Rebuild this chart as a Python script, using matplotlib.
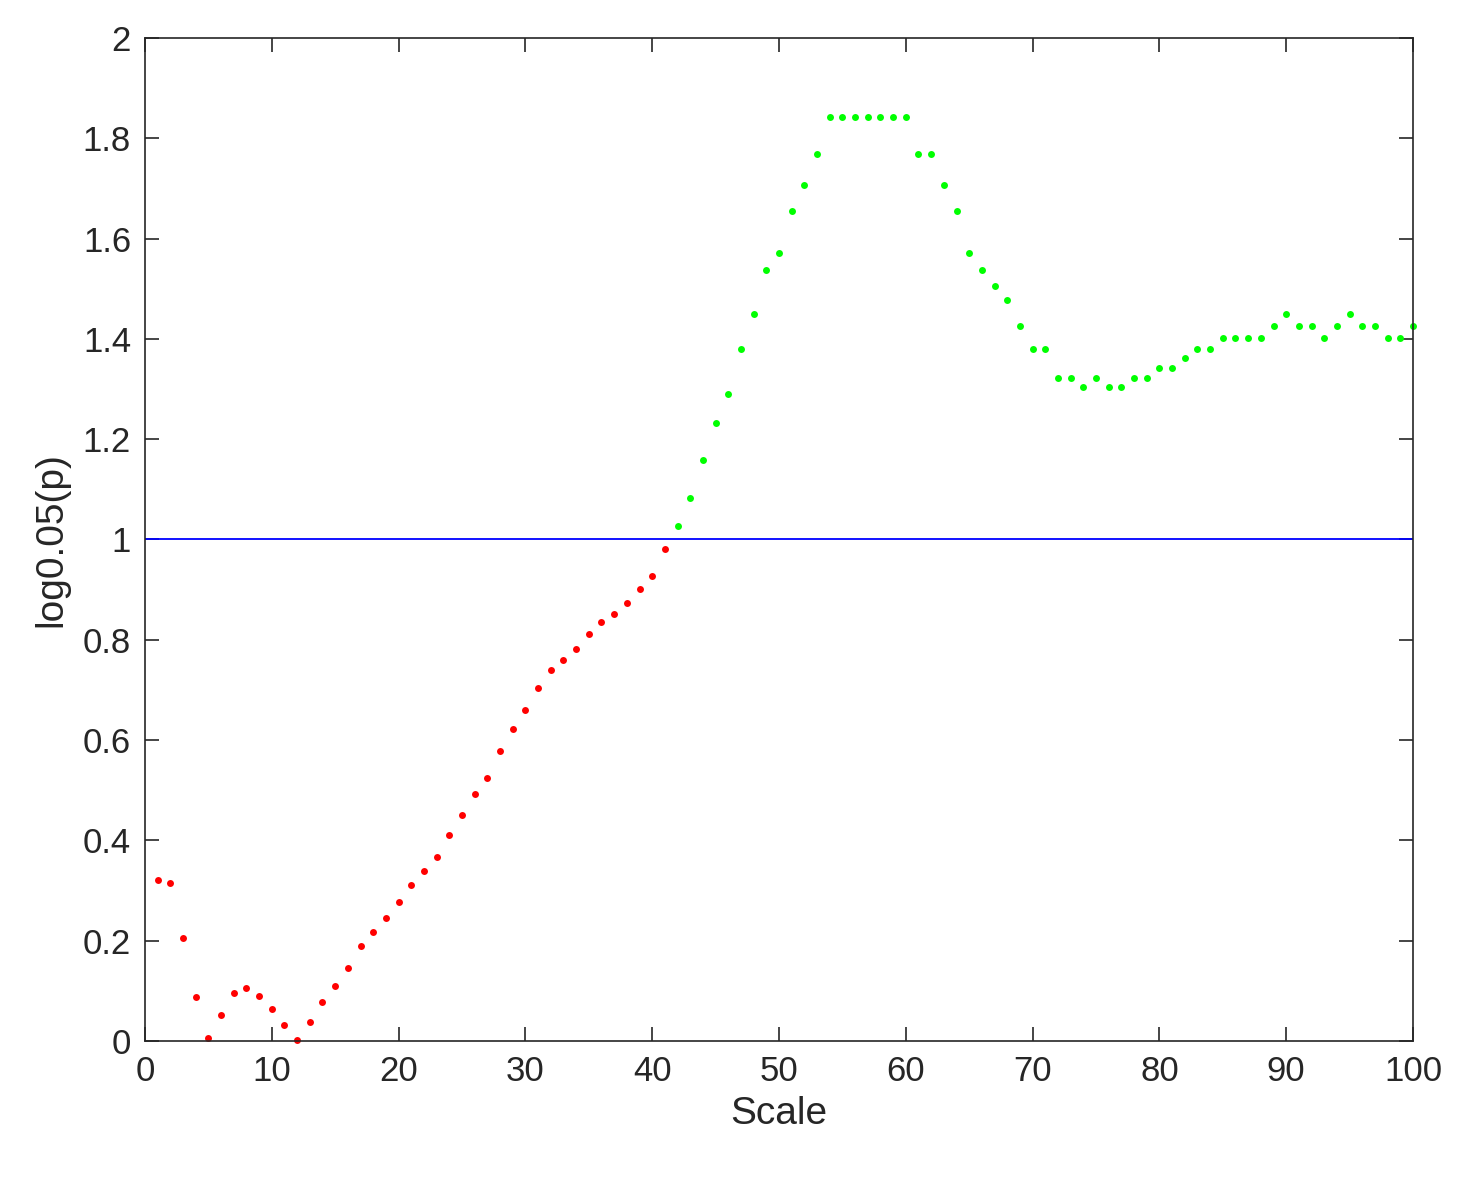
import matplotlib
matplotlib.use("Agg")
import matplotlib.pyplot as plt
import numpy as np

red_x = list(range(1, 42))
red_y = [0.321,0.315,0.205,0.088,0.006,0.052,0.096,0.106,0.090,0.064,0.032,0.002,0.038,0.078,0.110,
         0.146,0.190,0.217,0.245,0.277,0.311,0.339,0.367,0.411,0.451,0.493,0.524,0.578,0.622,0.660,
         0.704,0.740,0.760,0.782,0.812,0.836,0.851,0.873,0.901,0.927,0.981]
green_x = list(range(42, 101))
green_y = [1.027,1.083,1.159,1.232,1.290,1.380,1.450,1.537,1.571,1.655,1.707,1.769,
           1.842,1.842,1.842,1.842,1.842,1.842,1.842,
           1.769,1.769,1.707,1.655,1.571,1.537,1.505,1.478,1.426,1.380,1.380,
           1.322,1.322,1.304,1.322,1.304,1.304,1.322,1.322,1.342,1.342,1.362,1.380,1.380,
           1.402,1.402,1.402,1.402,1.426,1.450,1.426,1.426,1.402,1.426,1.450,1.426,1.426,
           1.402,1.402,1.426]
threshold = 1.0

plt.rcParams['font.family'] = ['Liberation Sans', 'DejaVu Sans']
fig = plt.figure(figsize=(14.6, 11.84), dpi=100)
ax = fig.add_axes([0.0993, 0.1208, 0.8685, 0.8472])
ax.plot(red_x, red_y, 'o', color='red', markersize=5, markeredgewidth=0, clip_on=False)
ax.plot(green_x, green_y, 'o', color='#00ff00', markersize=5, markeredgewidth=0, clip_on=False)
ax.axhline(threshold, color='blue', linewidth=1.3)
ax.set_xlim(0, 100)
ax.set_ylim(0, 2)
ax.set_xticks(np.arange(0, 101, 10))
ax.set_yticks(np.arange(0, 2.01, 0.2))
ax.set_yticklabels(['0', '0.2', '0.4', '0.6', '0.8', '1', '1.2', '1.4', '1.6', '1.8', '2'])
ax.tick_params(direction='in', top=True, right=True, labelsize=25, length=10, width=1.2,
               colors='#262626', pad=10)
for s in ax.spines.values():
    s.set_linewidth(1.2)
    s.set_color('#262626')
ax.set_xlabel('Scale', fontsize=28, color='#262626', labelpad=6)
ax.set_ylabel('log0.05(p)', fontsize=28, color='#262626', labelpad=10)
fig.savefig('out.png', dpi=100)
